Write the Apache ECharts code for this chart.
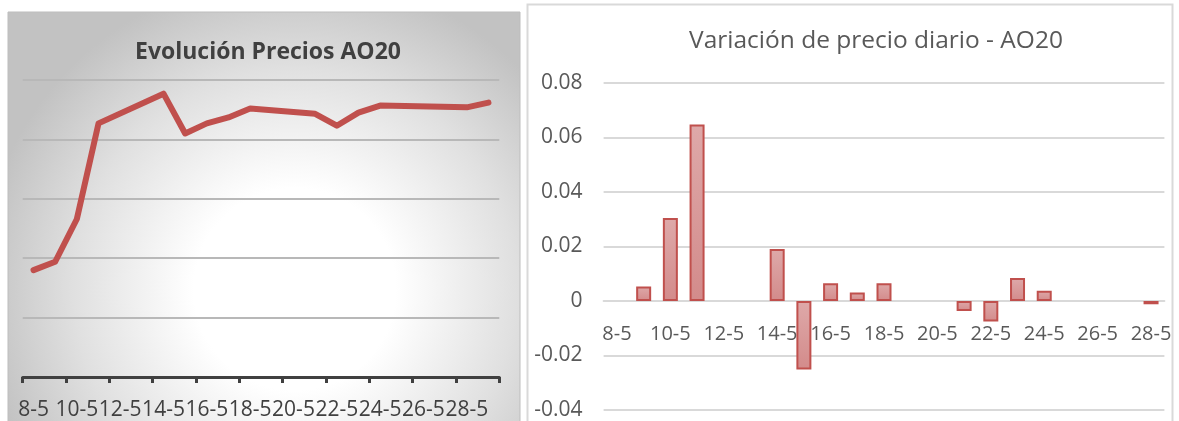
<!DOCTYPE html>
<html>
<head>
<meta charset="utf-8">
<script src="https://cdn.jsdelivr.net/npm/echarts@6/dist/echarts.min.js"></script>
<style>
html,body{margin:0;padding:0;background:#fff;}
#c{width:1179px;height:421px;}
</style>
</head>
<body>
<div id="c"></div>
<script>
// Left chart: daily prices (null = no trading that day, line connects across)
const priceDays = ['8-5','9-5','10-5','11-5','12-5','13-5','14-5','15-5','16-5','17-5','18-5','19-5','20-5','21-5','22-5','23-5','24-5','25-5','26-5','27-5','28-5','29-5'];
const prices = [2380, 2394, 2466, 2627, null, null, 2677, 2610, 2627, 2637, 2652, null, null, 2643, 2623, 2645, 2657, null, null, null, 2654, 2662];
const priceAxis = {min: 2200, max: 2700, interval: 100};

// Right chart: daily price variation
const varDays = ['8-5','9-5','10-5','11-5','12-5','13-5','14-5','15-5','16-5','17-5','18-5','19-5','20-5','21-5','22-5','23-5','24-5','25-5','26-5','27-5','28-5'];
const variation = [null, 0.0053, 0.0305, 0.0648, null, null, 0.0191, -0.0251, 0.0065, 0.0031, 0.0065, null, null, -0.0037, -0.0075, 0.0084, 0.0038, null, null, null, -0.0012];
const varAxis = {min: -0.04, max: 0.08, interval: 0.02};

const titles = ['Evolución Precios AO20', 'Variación de precio diario - AO20'];

const FONT = '"Open Sans", "Noto Sans", sans-serif';
const chart = echarts.init(document.getElementById('c'), null, {renderer: 'canvas'});

// right grid geometry (zero line placement for category axis labels)
const rTop = 83, rHeight = 327;
const zeroY = rTop + rHeight * (varAxis.max / (varAxis.max - varAxis.min));
const rOffset = -((rTop + rHeight) - zeroY);

chart.setOption({
  animation: false,
  backgroundColor: '#ffffff',
  graphic: [
    {
      type: 'rect', z: -10, silent: true,
      shape: {x: 8, y: 12, width: 512, height: 420},
      style: {
        fill: new echarts.graphic.RadialGradient(0.56, 0.66, 0.75, [
          {offset: 0, color: '#ffffff'},
          {offset: 0.32, color: '#ffffff'},
          {offset: 0.7, color: '#e0e0e0'},
          {offset: 1, color: '#c2c2c2'}
        ]),
        stroke: '#bdbdbd', lineWidth: 1
      }
    },
    {
      type: 'rect', z: -10, silent: true,
      shape: {x: 527.5, y: 4.5, width: 645, height: 430},
      style: {fill: '#ffffff', stroke: '#d9d9d9', lineWidth: 2}
    }
  ],
  title: [
    {
      text: titles[0], left: 263, top: 36, textAlign: 'center',
      textStyle: {fontFamily: FONT, fontWeight: 'bold', fontSize: 23, color: '#404040'}
    },
    {
      text: titles[1], left: 871, top: 24, textAlign: 'center',
      textStyle: {fontFamily: FONT, fontWeight: 'normal', fontSize: 24.5, color: '#595959'}
    }
  ],
  grid: [
    {left: 22.7, top: 80, width: 476.6, height: 297, containLabel: false, outerBoundsMode: 'none'},
    {left: 603.6, top: rTop, width: 560.8, height: rHeight, containLabel: false, outerBoundsMode: 'none'}
  ],
  xAxis: [
    {
      type: 'category', gridIndex: 0, data: priceDays, boundaryGap: true,
      axisLine: {show: true, lineStyle: {color: '#404040', width: 3}},
      axisTick: {show: true, interval: 1, length: 6, lineStyle: {color: '#404040', width: 3}},
      axisLabel: {interval: 1, hideOverlap: false, margin: 23, fontFamily: FONT, fontSize: 21, color: '#404040'},
      splitLine: {show: false}
    },
    {
      type: 'category', gridIndex: 1, data: varDays, boundaryGap: true, offset: rOffset,
      axisLine: {show: true, onZero: false, lineStyle: {color: '#d9d9d9', width: 2}},
      axisTick: {show: false},
      axisLabel: {interval: 1, hideOverlap: false, margin: 23, fontFamily: FONT, fontSize: 20, color: '#595959'},
      splitLine: {show: false}
    }
  ],
  yAxis: [
    {
      type: 'value', gridIndex: 0, min: priceAxis.min, max: priceAxis.max, interval: priceAxis.interval,
      axisLine: {show: false}, axisTick: {show: false}, axisLabel: {show: false},
      splitLine: {show: true, lineStyle: {color: '#b8b8b8', width: 2}}
    },
    {
      type: 'value', gridIndex: 1, min: varAxis.min, max: varAxis.max, interval: varAxis.interval,
      axisLine: {show: false}, axisTick: {show: false},
      axisLabel: {margin: 21, fontFamily: FONT, fontSize: 21, color: '#595959'},
      splitLine: {show: true, lineStyle: {color: '#d9d9d9', width: 2}}
    }
  ],
  series: [
    {
      type: 'line', xAxisIndex: 0, yAxisIndex: 0, data: prices, connectNulls: true,
      symbol: 'none', smooth: false,
      lineStyle: {color: '#c0504d', width: 6, cap: 'round', join: 'round'}
    },
    {
      type: 'bar', xAxisIndex: 1, yAxisIndex: 1, data: variation, barWidth: 15,
      itemStyle: {
        color: new echarts.graphic.LinearGradient(0, 0, 0, 1, [
          {offset: 0, color: '#dea9a9'},
          {offset: 1, color: '#d38b8b'}
        ]),
        borderColor: '#c0504d', borderWidth: 2
      }
    }
  ]
});
</script>
</body>
</html>
